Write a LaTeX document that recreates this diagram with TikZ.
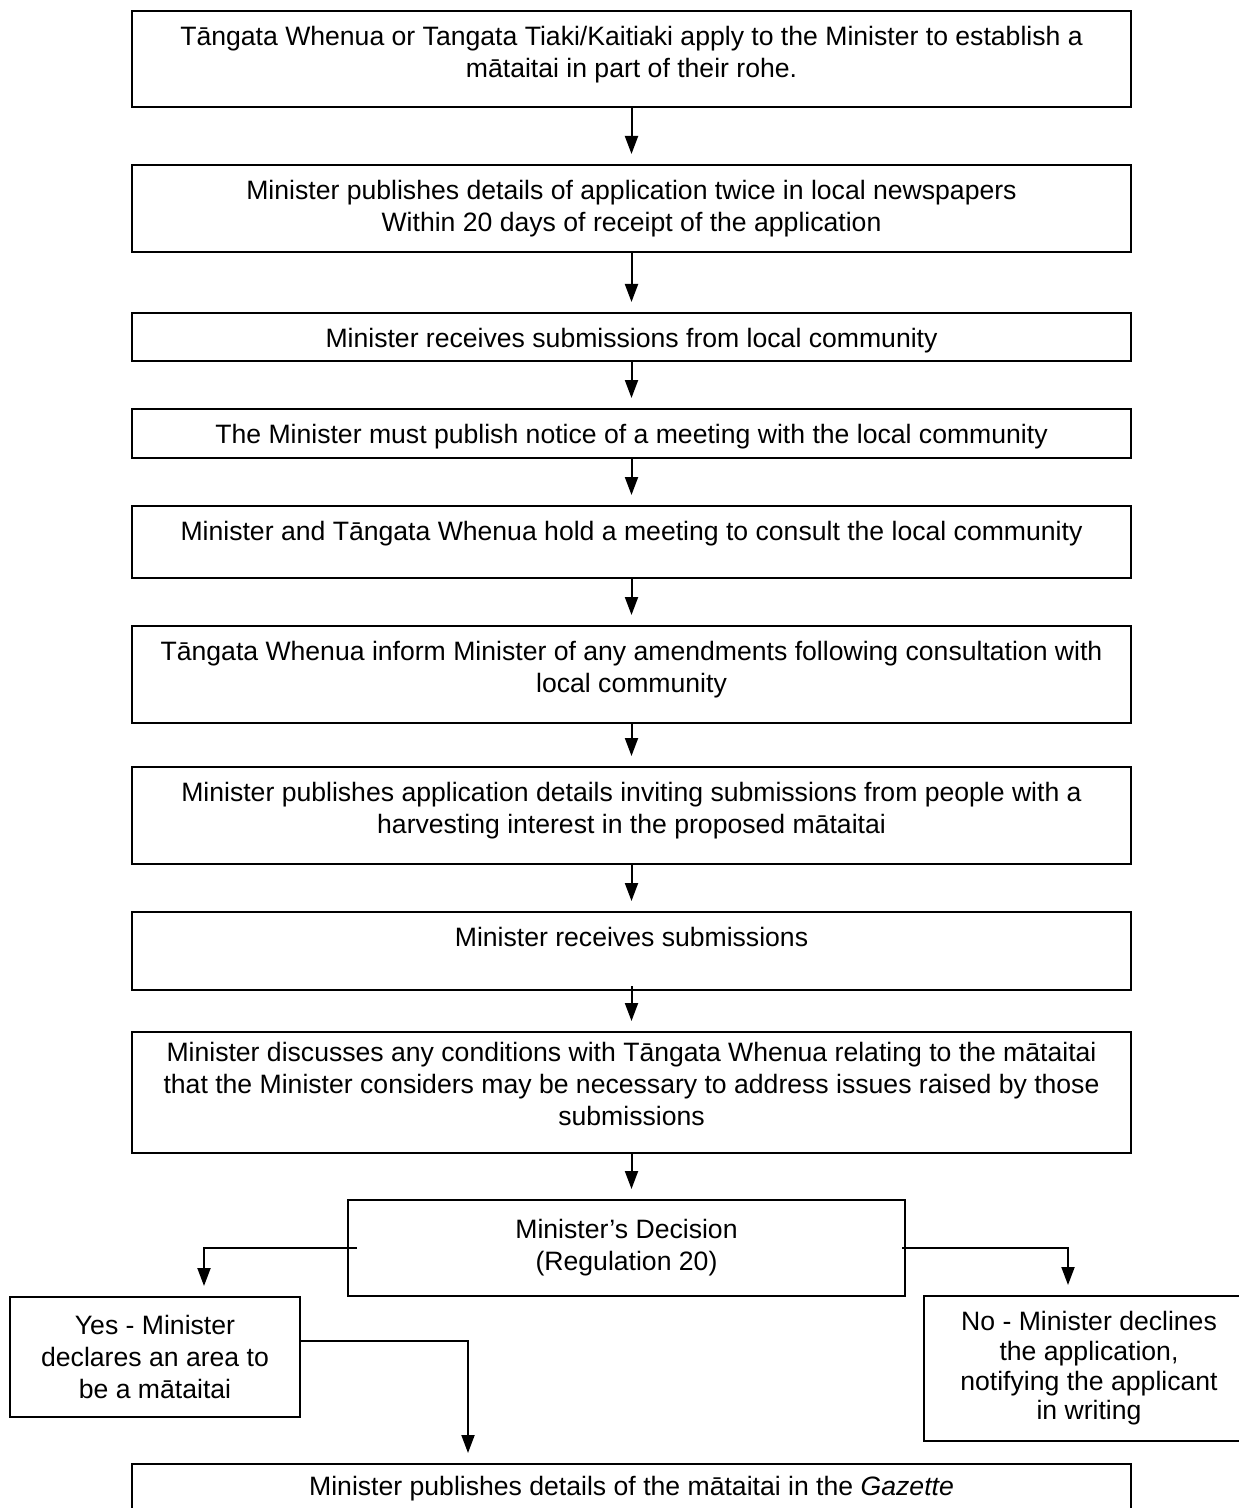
\documentclass[tikz,border=0pt]{standalone}
\usepackage{fontspec}
\setmainfont{Liberation Sans}
\usetikzlibrary{arrows.meta,positioning}
% text set from the top of a box of given height
\newcommand{\flowtext}[3][7.8pt]{\parbox[c][#2][t]{499.5pt}{\centering\vspace*{#1}#3}}

\begin{document}
\begin{tikzpicture}[x=0.5pt,y=-0.5pt]
      \useasboundingbox (0,0) rectangle (1238,1508);
      \begin{scope}[every node/.style={draw,line width=1pt,align=center,inner sep=0pt,
          minimum width=499.5pt,font=\fontsize{13.3pt}{16pt}\selectfont}]
        \node[anchor=north west] (apply) at (131,10)
          {\flowtext{48pt}{Tāngata Whenua or Tangata Tiaki/Kaitiaki apply to the Minister to establish a\\ mātaitai in part of their rohe.}};
        \node (publish) [below=28pt of apply]
          {\flowtext{43.5pt}{Minister publishes details of application twice in local newspapers\\ Within 20 days of receipt of the application}};
        \node (community) [below=29.5pt of publish]
          {\flowtext{24pt}{Minister receives submissions from local community}};
        \node (notice) [below=23pt of community]
          {\flowtext{24.5pt}{The Minister must publish notice of a meeting with the local community}};
        \node (meeting) [below=23pt of notice]
          {\flowtext{36pt}{Minister and Tāngata Whenua hold a meeting to consult the local community}};
        \node (amend) [below=23pt of meeting]
          {\flowtext{48.5pt}{Tāngata Whenua inform Minister of any amendments following consultation with\\ local community}};
        \node (invite) [below=21pt of amend]
          {\flowtext{48.5pt}{Minister publishes application details inviting submissions from people with a\\ harvesting interest in the proposed mātaitai}};
        \node (receive) [below=23pt of invite]
          {\flowtext{39pt}{Minister receives submissions}};
        \node (discuss) [below=20pt of receive]
          {\flowtext[5.3pt]{60.5pt}{Minister discusses any conditions with Tāngata Whenua relating to the mātaitai\\ that the Minister considers may be necessary to address issues raised by those\\ submissions}};
        \node[minimum height=48pt,minimum width=278.5pt,anchor=north west] (decide) at (347,1199)
          {Minister’s Decision\\ (Regulation 20)};
        \node[minimum height=60pt,minimum width=145pt,anchor=north west] (yes) at (9,1296)
          {Yes - Minister\\ declares an area to\\ be a mātaitai};
        \node[minimum height=72.5pt,minimum width=165pt,anchor=north west,
          font=\fontsize{13.3pt}{14.8pt}\selectfont] (no) at (923,1295)
          {No - Minister declines\\ the application,\\ notifying the applicant\\ in writing};
        \node[minimum height=25pt,anchor=north west] (gazette) at (131,1463)
          {Minister publishes details of the mātaitai in the \textit{Gazette}};
      \end{scope}
      \begin{scope}
        [every edge/.style={draw,line width=1pt,-{Triangle[length=9pt,width=6.5pt]},shorten >=5pt}]
        \path (apply) edge (publish);
        \path (publish) edge (community);
        \path (community) edge (notice);
        \path (notice) edge (meeting);
        \path (meeting) edge (amend);
        \path (amend) edge (invite);
        \path (invite) edge (receive);
        \path ([yshift=2.5pt]receive.south) edge (discuss);
        \path (discuss.south) edge (discuss.south |- decide.north);
        \path ([xshift=5pt]decide.west) edge[to path={-| (\tikztotarget)}] ([xshift=24.5pt]yes.north);
        \path ([xshift=-2pt]decide.east) edge[to path={-| (\tikztotarget)}] ([xshift=-10.5pt]no.north);
        \path ([yshift=8pt]yes.east) edge[to path={-| (\tikztotarget)}] ([xshift=-81.75pt]gazette.north);
      \end{scope}
    \end{tikzpicture}
\end{document}
